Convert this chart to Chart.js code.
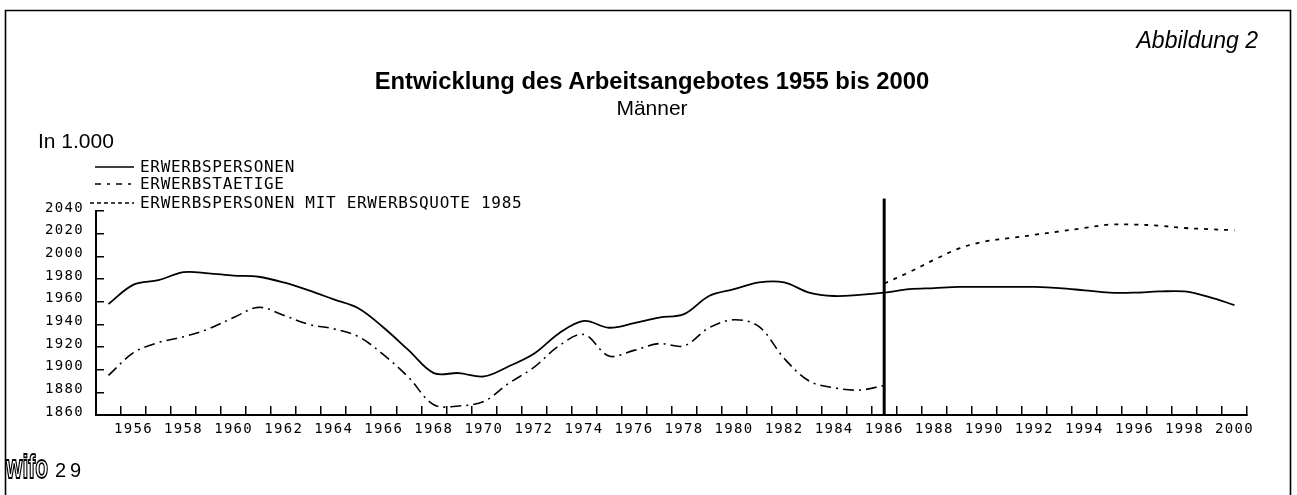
<!DOCTYPE html>
<html><head><meta charset="utf-8">
<script src="https://cdn.jsdelivr.net/npm/chart.js@4"></script>
<style>
html,body{margin:0;padding:0;background:#fff;}
#wrap{position:relative;width:1297px;height:495px;overflow:hidden;background:#fff;}
#c{position:absolute;left:0;top:0;}
#ov{position:absolute;left:0;top:0;}
</style></head><body>
<div id="wrap">
<canvas id="c" width="1297" height="495"></canvas>
<svg id="ov" width="1297" height="495" xmlns="http://www.w3.org/2000/svg">
  <path d="M5.5 495 V10.5 H1290.5 V495" fill="none" stroke="#000" stroke-width="1.6"/>
  <text x="1258" y="48" text-anchor="end" font-family="Liberation Sans" font-style="italic" font-size="23">Abbildung 2</text>
  <text x="652" y="89" text-anchor="middle" font-family="Liberation Sans" font-weight="bold" font-size="23.8">Entwicklung des Arbeitsangebotes 1955 bis 2000</text>
  <text x="652" y="115" text-anchor="middle" font-family="Liberation Sans" font-size="21">Männer</text>
  <text x="38" y="148" font-family="Liberation Sans" font-size="21">In 1.000</text>
  <g stroke="#000" stroke-width="1.4" fill="none">
    <line x1="95" y1="167" x2="134" y2="167"/>
    <line x1="95" y1="184" x2="134" y2="184" stroke-dasharray="6,6,3,6"/>
    <line x1="90" y1="203" x2="134" y2="203" stroke-dasharray="4,3"/>
  </g>
  <g font-family="DejaVu Sans Mono" font-size="16" style="letter-spacing:0.7px;white-space:pre" xml:space="preserve">
    <text x="140" y="172">ERWERBSPERSONEN</text>
    <text x="140" y="189">ERWERBSTAETIGE</text>
    <text x="140" y="208">ERWERBSPERSONEN  MIT  ERWERBSQUOTE  1985</text>
  </g>
  <g transform="translate(6,478) scale(0.62,1)"><text font-family="Liberation Sans" font-weight="bold" font-size="34" fill="#fff" stroke="#000" stroke-width="1.8">wifo</text></g>
  <text x="55" y="477" font-family="Liberation Sans" font-size="20" style="letter-spacing:4px">29</text>
</svg>
</div>
<script>
// Categories (years)
const years = [1955,1956,1957,1958,1959,1960,1961,1962,1963,1964,1965,1966,1967,1968,1969,1970,
  1971,1972,1973,1974,1975,1976,1977,1978,1979,1980,1981,1982,1983,1984,1985,1986,
  1987,1988,1989,1990,1991,1992,1993,1994,1995,1996,1997,1998,1999,2000];
// ERWERBSPERSONEN (1955-2000)
const persons = [1958,1975,1979,1986,1985,1983,1982,1977,1970,1962,1954,1937,1917,1897,1897,1894,
  1903,1914,1932,1943,1937,1941,1946,1949,1965,1971,1977,1977,1968,1965,1966,1968,
  1971,1972,1973,1973,1973,1973,1972,1970,1968,1968,1969,1969,1964,1957];
// ERWERBSTAETIGE (1955-1986)
const employedYears = [1955,1956,1957,1958,1959,1960,1961,1962,1963,1964,1965,1966,1967,1968,1969,1970,
  1971,1972,1973,1974,1975,1976,1977,1978,1979,1980,1981,1982,1983,1984,1985,1986];
const employed = [1895,1915,1924,1929,1936,1946,1955,1948,1940,1936,1929,1913,1893,1869,1868,1872,
  1888,1902,1921,1931,1912,1917,1923,1921,1937,1944,1938,1910,1890,1884,1882,1886];
// ERWERBSPERSONEN MIT ERWERBSQUOTE 1985 (1986-2000)
const quotaYears = [1986,1987,1988,1989,1990,1991,1992,1993,1994,1995,1996,1997,1998,1999,2000];
const quota = [1976,1986,1997,2007,2013,2016,2019,2022,2025,2028,2028,2027,2025,2024,2023];
// Divider between history and projection
const dividerYear = 1986;
const dividerRange = [1860, 2051];
// Axis
const yMin = 1860, yMax = 2040, yStep = 20;

const pts = (ys, vs) => vs.map((v, i) => ({x: String(ys[i]), y: v}));
const tickFont = {family: "'DejaVu Sans Mono', monospace", size: 14};

const spacing = {
  id: 'spacing',
  beforeLayout(c) { c.ctx.letterSpacing = '1.3px'; },
  beforeDraw(c) { c.ctx.letterSpacing = '1.3px'; }
};

new Chart(document.getElementById('c'), {
  type: 'line',
  data: {
    labels: years.map(String),
    datasets: [
      {label: 'ERWERBSPERSONEN', data: pts(years, persons), borderColor: '#000', borderWidth: 1.8, pointRadius: 0, tension: 0.35, fill: false},
      {label: 'ERWERBSTAETIGE', data: pts(employedYears, employed), borderColor: '#000', borderWidth: 1.6, borderDash: [11, 5, 2, 5], pointRadius: 0, tension: 0.35, fill: false},
      {label: 'ERWERBSPERSONEN MIT ERWERBSQUOTE 1985', data: pts(quotaYears, quota), borderColor: '#000', borderWidth: 1.8, borderDash: [4, 6], pointRadius: 0, tension: 0.35, fill: false},
      {label: 'divider', data: dividerRange.map(v => ({x: String(dividerYear), y: v})), borderColor: '#000', borderWidth: 3, pointRadius: 0, tension: 0, clip: false, fill: false}
    ]
  },
  options: {
    responsive: false,
    animation: false,
    devicePixelRatio: 1,
    layout: {padding: {left: 0, top: 211, right: 50, bottom: 40}},
    plugins: {legend: {display: false}, tooltip: {enabled: false}},
    scales: {
      x: {
        type: 'category', offset: true,
        grid: {offset: true, drawOnChartArea: false, drawTicks: true, tickLength: -9, color: '#000', lineWidth: 1.5},
        border: {display: true, color: '#000', width: 2},
        ticks: {autoSkip: false, maxRotation: 0, minRotation: 0, padding: 15, color: '#000', font: tickFont,
          callback: (v, i) => (years[i] % 2 === 0 ? String(years[i]) : '')},
        afterFit(s) { s.height = 40; }
      },
      y: {
        type: 'linear', min: yMin, max: yMax,
        ticks: {stepSize: yStep, padding: 20, labelOffset: -3, color: '#000', font: tickFont,
          callback: v => String(v)},
        grid: {drawOnChartArea: false, drawTicks: true, tickLength: -8, color: '#000', lineWidth: 1.5},
        border: {display: true, color: '#000', width: 2},
        afterFit(s) { s.width = 96; }
      }
    }
  },
  plugins: [spacing]
});
</script>
</body></html>
